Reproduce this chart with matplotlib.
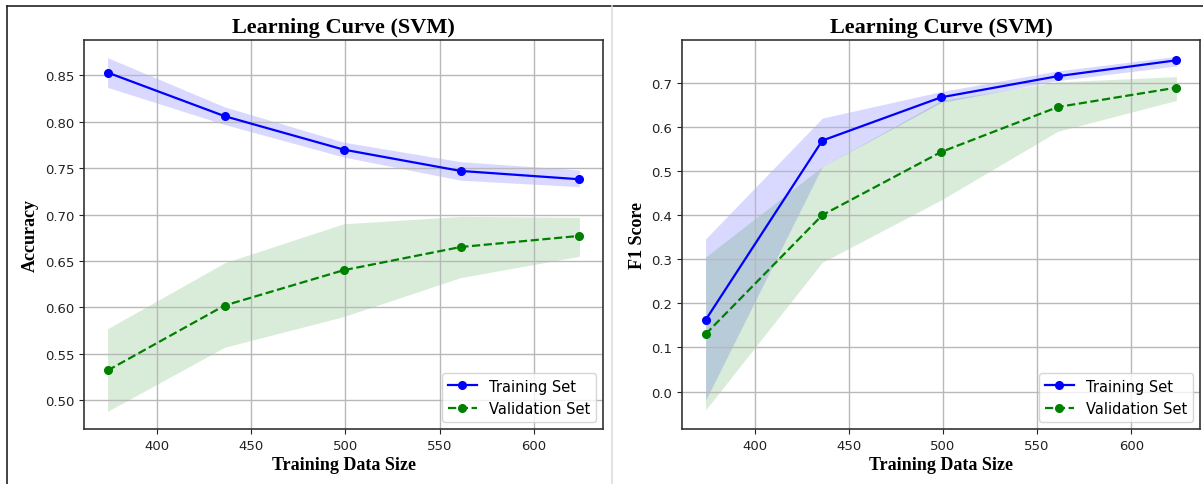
import numpy as np
import matplotlib
matplotlib.use("Agg")
import matplotlib.pyplot as plt
from matplotlib.lines import Line2D

# Training sizes (learning_curve with 5 steps)
train_sizes = [374, 436, 499, 561, 624]

# Accuracy panel
acc_train_mean = [0.853, 0.806, 0.770, 0.747, 0.738]
acc_train_low = [0.837, 0.797, 0.762, 0.737, 0.730]
acc_train_high = [0.869, 0.816, 0.778, 0.757, 0.748]
acc_val_mean = [0.532, 0.602, 0.640, 0.665, 0.677]
acc_val_low = [0.488, 0.557, 0.590, 0.632, 0.655]
acc_val_high = [0.577, 0.648, 0.690, 0.698, 0.697]

# F1 panel
f1_train_mean = [0.162, 0.569, 0.667, 0.715, 0.751]
f1_train_low = [-0.020, 0.510, 0.655, 0.705, 0.738]
f1_train_high = [0.346, 0.620, 0.680, 0.727, 0.760]
f1_val_mean = [0.130, 0.400, 0.543, 0.645, 0.689]
f1_val_low = [-0.042, 0.293, 0.434, 0.590, 0.660]
f1_val_high = [0.305, 0.510, 0.660, 0.702, 0.714]

TITLE_FONT = {"family": "Liberation Serif", "weight": "bold", "size": 16}
LABEL_FONT = {"family": "Liberation Serif", "weight": "bold", "size": 13}


def draw_panel(ax, ylabel, tr_mean, tr_low, tr_high, va_mean, va_low, va_high):
    """Dibuja una curva de aprendizaje con bandas"""
    ax.plot(train_sizes, tr_mean, "o-", color="blue", markersize=5.5,
            linewidth=1.6, label="Training Set")
    ax.fill_between(train_sizes, tr_low, tr_high, color="blue", alpha=0.15,
                    linewidth=0)
    ax.plot(train_sizes, va_mean, "o--", color="green", markersize=5.5,
            linewidth=1.6, label="Validation Set")
    ax.fill_between(train_sizes, va_low, va_high, color="green", alpha=0.15,
                    linewidth=0)
    ax.set_title("Learning Curve (SVM)", fontdict=TITLE_FONT, pad=6)
    ax.set_xlabel("Training Data Size", fontdict=LABEL_FONT, labelpad=3)
    ax.set_ylabel(ylabel, fontdict=LABEL_FONT, labelpad=4)
    ax.grid(True, color="#b8b8b8", linewidth=1.0)
    ax.tick_params(labelsize=9.5, colors="#222222")
    for sp in ax.spines.values():
        sp.set_color("#333333")
        sp.set_linewidth(1.2)
    ax.legend(loc="lower right", fontsize=10.5, framealpha=0.8)


fig = plt.figure(figsize=(12.03, 4.85), dpi=100)
W, H = 1203, 485
ax1 = fig.add_axes([84 / W, 1 - 430 / H, (603 - 84) / W, (430 - 41) / H])
ax2 = fig.add_axes([682 / W, 1 - 430 / H, (1200 - 682) / W, (430 - 41) / H])

draw_panel(ax1, "Accuracy", acc_train_mean, acc_train_low, acc_train_high,
           acc_val_mean, acc_val_low, acc_val_high)
draw_panel(ax2, "F1 Score", f1_train_mean, f1_train_low, f1_train_high,
           f1_val_mean, f1_val_low, f1_val_high)
ax1.set_yticks(np.arange(0.50, 0.851, 0.05))
ax2.set_ylim(-0.085, 0.797)

# page borders around the two images
fig.add_artist(Line2D([7 / W, 1], [1 - 7 / H, 1 - 7 / H], color="#222222", linewidth=1.2))
fig.add_artist(Line2D([7 / W, 7 / W], [0, 1 - 7 / H], color="#222222", linewidth=1.2))
fig.add_artist(Line2D([612 / W, 612 / W], [0, 1 - 7 / H], color="#dddddd", linewidth=1.2))

fig.savefig("out.png", dpi=100)
